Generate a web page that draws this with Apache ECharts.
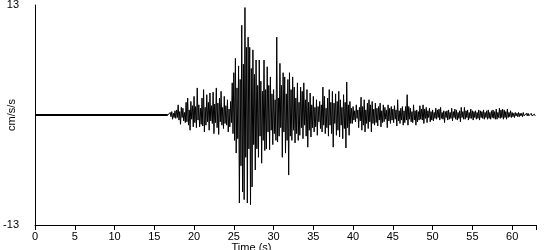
<!DOCTYPE html>
<html>
<head>
<meta charset="utf-8">
<script src="https://cdn.jsdelivr.net/npm/echarts@6/dist/echarts.min.js"></script>
<style>html,body{margin:0;padding:0;background:#fff}#c{width:550px;height:250px}</style>
</head>
<body>
<div id="c"></div>
<script>
// Time axis settings (seconds)
const quietTimes = [0, 16.7];   // flat pre-event record
const startTime = 16.8;         // first sample of the shaking
const sampleStep = 0.1;         // seconds between samples
const xTicks = [0, 5, 10, 15, 20, 25, 30, 35, 40, 45, 50, 55, 60];
const yTickLabels = [-13, 13];

// Acceleration (cm/s/s), one row per second
const onset = [0.1,-0.2,
  0.3,-0.2,0.4,-0.5,0.2,-0.3,0.5,-0.4,0.6,-0.3,
  1.2,-0.6,0.4,-1.1,0.9,-0.3,0.8,-0.7,0.3,-0.9,
  1.5,-0.8,2.0,-1.2,0.6,-1.8,1.6,-0.5,1.1,-1.4,
  2.2,-0.9,1.0,-1.5,3.2,-0.6,1.2,-1.4,0.8,-1.1,
  2.0,-1.3,3.0,-2.0,0.9,-1.2,2.4,-0.8,1.5,-1.8,
  2.6,-0.7,1.1,-1.0,2.7,-2.2,1.3,-0.9,3.2,-1.5,
  1.4,-2.3,2.0,-0.8,2.8,-1.2,0.9,-1.6,2.2,-1.0,
  1.1,-1.2,1.8,-2.0,0.7,-1.4,1.6,-0.9,3.8,-2.2];
const strongMotion = [
  5.0,-3.0,6.7,-4.5,3.2,-2.8,5.8,-10.4,4.2,-6.0,
  10.6,-9.1,6.0,-10.0,12.7,-5.0,8.0,-10.4,9.2,-4.0,
  8.0,-10.6,5.5,-8.5,7.7,-3.5,4.8,-6.5,6.5,-4.0,
  3.5,-5.0,6.5,-2.5,4.0,-5.7,2.8,-3.0,6.5,-4.2,
  3.0,-4.0,5.7,-2.0,3.5,-4.1,4.5,-1.8,2.5,-3.5,
  3.0,-2.2,1.8,-3.0,9.2,-3.2,2.0,-2.5,6.1,-1.5,
  3.5,-5.0,5.0,-2.0,4.5,-4.5,2.5,-3.0,4.2,-7.1,
  5.0,-2.5,3.0,-3.0,4.5,-1.8,3.3,-3.3,2.0,-2.2,
  3.8,-3.0,1.5,-2.4,3.3,-1.5,2.8,-2.8,3.8,-1.2,
  1.8,-2.5,3.0,-3.8,1.5,-1.8,2.6,-2.6,1.2,-1.5];
const coda = [
  2.2,-2.0,0.9,-1.4,1.8,-2.4,1.0,-0.8,1.6,-1.6,
  1.2,-2.0,3.3,-1.2,2.2,-2.2,0.8,-1.5,2.0,-2.5,
  3.0,-1.2,1.5,-2.2,2.8,-3.8,1.4,-1.0,2.5,-2.4,
  1.6,-1.8,2.8,-2.6,1.8,-1.2,0.9,-2.8,2.4,-1.6,
  1.5,-3.9,3.9,-1.5,1.2,-2.4,1.6,-1.0,0.8,-1.0,
  1.0,-0.6,0.5,-0.8,1.2,-0.4,0.6,-1.5,0.9,-0.7,
  2.1,-1.8,1.0,-1.2,1.8,-2.0,0.6,-1.0,1.4,-1.6,
  1.8,-0.8,1.2,-2.0,1.6,-1.0,0.7,-1.2,1.4,-0.9,
  0.8,-1.3,1.0,-0.6,1.4,-1.4,0.5,-0.9,1.2,-0.8,
  0.9,-0.5,0.6,-1.5,1.2,-0.7,0.8,-1.0,1.0,-0.6,
  0.7,-0.9,1.1,-0.5,0.6,-1.3,1.8,-0.7,0.5,-1.0,
  0.8,-0.6,1.0,-1.2,0.5,-0.9,1.0,-0.6,2.4,-1.2,
  1.0,-0.5,0.8,-0.8,0.4,-0.9,1.2,-0.6,0.5,-1.2,
  0.6,-0.8,0.4,-0.6,1.1,-0.5,0.7,-0.6,1.2,-1.0,
  0.7,-0.4,0.9,-0.9,0.5,-0.3,0.8,-0.8,0.4,-0.6,
  0.6,-0.7,0.3,-0.4,0.8,-0.5,0.6,-0.3,0.7,-0.6,
  0.9,-0.4,0.3,-0.5,0.5,-0.9,0.4,-0.3,0.5,-0.6,
  0.6,-0.5,0.3,-0.4,0.8,-0.7,0.4,-0.3,0.7,-0.5,
  0.6,-0.6,0.3,-0.4,0.5,-0.8,0.9,-0.3,0.4,-0.5,
  0.9,-0.5,0.5,-0.3,0.6,-0.6,0.3,-0.4,0.7,-0.4,
  0.5,-0.6,0.4,-0.3,0.5,-0.5,0.3,-0.4,0.6,-0.6,
  0.5,-0.3,0.4,-0.4,0.6,-0.5,0.3,-0.3,0.5,-0.5,
  0.6,-0.4,0.3,-0.5,0.5,-0.3,0.6,-0.4,0.4,-0.5,
  0.7,-0.5,0.3,-0.3,0.8,-0.4,0.6,-0.3,0.7,-0.5,
  0.6,-0.3,0.4,-0.5,0.7,-0.3,0.3,-0.2,0.5,-0.3,
  0.3,-0.2,0.2,-0.3,0.3,-0.1,0.2,-0.2,0.3,-0.2,
  0.2,-0.1,0.2,-0.2,0.3,-0.1,0.1,-0.2,0.2,-0.1,
  0.2,-0.1,0.1,-0.2,0.2,-0.1,0.1,-0.1,0.1,-0.1,
  0.0];

const accel = onset.concat(strongMotion, coda);
const quietData = quietTimes.map(t => [t, 0]);
const shakingData = [[quietTimes[1], 0]]
  .concat(accel.map((v, i) => [+(startTime + i * sampleStep).toFixed(2), v]));

const font = 'Liberation Sans, Arial, sans-serif';
const chart = echarts.init(document.getElementById('c'), null, {renderer: 'canvas'});
chart.setOption({
  animation: false,
  backgroundColor: '#ffffff',
  grid: {left: 35, right: 14, top: 5, bottom: 25, containLabel: false, outerBoundsMode: 'none'},
  xAxis: {
    type: 'value', min: 0, max: 63, interval: 5,
    name: 'Time (s)', nameLocation: 'middle', nameGap: 17, nameMoveOverlap: false,
    nameTextStyle: {color: '#000', fontFamily: font, fontSize: 11, padding: [0, 68, 0, 0]},
    axisLine: {show: true, onZero: false, lineStyle: {color: '#000', width: 1}},
    axisTick: {show: true, length: 5, lineStyle: {color: '#000'}},
    axisLabel: {color: '#000', fontFamily: font, fontSize: 11, margin: 6,
      formatter: v => xTicks.includes(v) ? String(v) : ''},
    splitLine: {show: false}
  },
  yAxis: {
    type: 'value', min: -13, max: 13, interval: 13,
    name: 'cm/s/s', nameLocation: 'middle', nameGap: 18, nameRotate: 90, nameMoveOverlap: false,
    nameTextStyle: {color: '#000', fontFamily: font, fontSize: 11},
    axisLine: {show: true, onZero: false, lineStyle: {color: '#000', width: 1}},
    axisTick: {show: false},
    axisLabel: {color: '#000', fontFamily: font, fontSize: 11, margin: 16,
      formatter: v => yTickLabels.includes(v) ? String(v) : ''},
    splitLine: {show: false}
  },
  series: [{
    type: 'line', data: quietData, showSymbol: false, symbol: 'none',
    lineStyle: {color: '#000', width: 2}, silent: true
  }, {
    type: 'line', data: shakingData, showSymbol: false, symbol: 'none',
    lineStyle: {color: '#000', width: 1}, silent: true
  }]
});
</script>
</body>
</html>
